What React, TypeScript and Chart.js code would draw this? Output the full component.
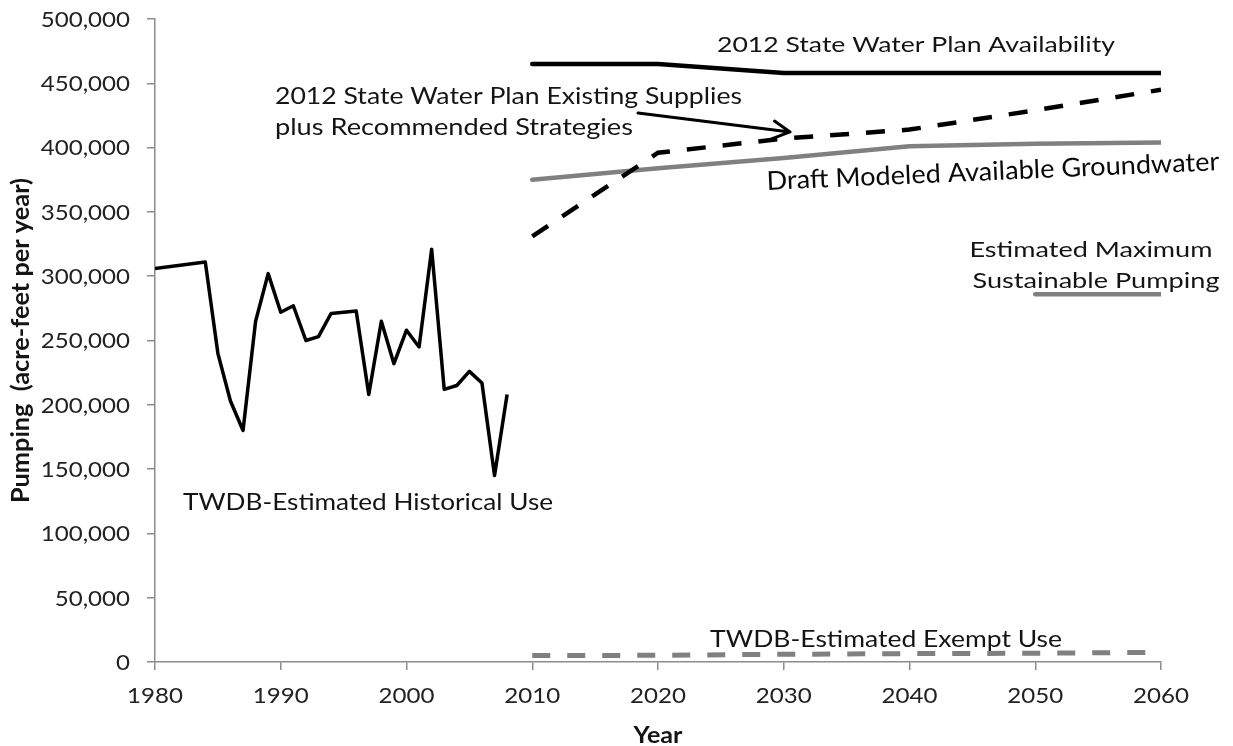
import React, { useEffect, useRef } from "react";
import { Chart, registerables } from "chart.js";

Chart.register(...registerables);

// ---------- data ----------
const histYears = [1980, 1984, 1985, 1986, 1987, 1988, 1989, 1990, 1991, 1992, 1993, 1994, 1995, 1996, 1997, 1998, 1999, 2000, 2001, 2002, 2003, 2004, 2005, 2006, 2007, 2008];
const histUse = [306000, 311000, 240000, 203000, 180000, 265000, 302000, 272000, 277000, 250000, 253000, 271000, 272000, 273000, 208000, 265000, 232000, 258000, 245000, 321000, 212000, 215000, 226000, 217000, 145000, 208000];

const projYears = [2010, 2020, 2030, 2040, 2050, 2060];
const swpAvailability = [465000, 465000, 458000, 458000, 458000, 458000];
const swpSuppliesStrategies = [331000, 396000, 407000, 414000, 429000, 445000];
const draftMAG = [375000, 384000, 392000, 401000, 403000, 404000];
const exemptUse = [5000, 5200, 6000, 6500, 6800, 7500];

const sustainYears = [2050, 2060];
const sustainPumping = [286000, 286000];

const xTickValues = [1980, 1990, 2000, 2010, 2020, 2030, 2040, 2050, 2060];
const xTickLabels = ["1980", "1990", "2000", "2010", "2020", "2030", "2040", "2050", "2060"];
const yTickValues = [0, 50000, 100000, 150000, 200000, 250000, 300000, 350000, 400000, 450000, 500000];
const yTickLabels = ["0", "50,000", "100,000", "150,000", "200,000", "250,000", "300,000", "350,000", "400,000", "450,000", "500,000"];

const xTitle = "Year";
const yTitle = "Pumping  (acre-feet per year)";

// ---------- helpers ----------
const pts = (xs: number[], ys: number[]) => xs.map((x, i) => ({ x, y: ys[i] }));

const FONT = "Lato, 'Open Sans', 'Noto Sans', sans-serif";
const TEXT = "#141414";
const GRAY = "#808080";
const AXIS = "#8c8c8c";

function drawFit(
  ctx: CanvasRenderingContext2D,
  text: string,
  x: number,
  y: number,
  font: string,
  width: number,
  align: "left" | "center" | "right",
  angle = 0,
  color = TEXT
) {
  ctx.save();
  ctx.font = font;
  ctx.fillStyle = color;
  ctx.textBaseline = "alphabetic";
  ctx.textAlign = "left";
  const w = ctx.measureText(text).width;
  const s = width / w;
  ctx.translate(x, y);
  if (angle) ctx.rotate(angle);
  ctx.scale(s, 1);
  const ox = align === "left" ? 0 : align === "center" ? -w / 2 : -w;
  ctx.fillText(text, ox, 0);
  ctx.restore();
}

const annotPlugin = {
  id: "annot",
  afterDraw(chart: any) {
    const ctx: CanvasRenderingContext2D = chart.ctx;
    const xs = chart.scales.x;
    const ys = chart.scales.y;
    const X = (v: number) => xs.getPixelForValue(v);
    const Y = (v: number) => ys.getPixelForValue(v);

    // tick labels
    const SX = 1.12;
    ctx.save();
    ctx.font = `21.5px ${FONT}`;
    ctx.fillStyle = "#222";
    ctx.textBaseline = "alphabetic";
    yTickValues.forEach((v, i) => {
      const t = yTickLabels[i];
      const w = ctx.measureText(t).width;
      ctx.save();
      ctx.translate(130, Y(v) + 7.8);
      ctx.scale(SX, 1);
      ctx.textAlign = "left";
      ctx.fillText(t, -w, 0);
      ctx.restore();
    });
    xTickValues.forEach((v, i) => {
      const t = xTickLabels[i];
      const w = ctx.measureText(t).width;
      ctx.save();
      ctx.translate(X(v), 703);
      ctx.scale(SX, 1);
      ctx.textAlign = "left";
      ctx.fillText(t, -w / 2, 0);
      ctx.restore();
    });
    ctx.restore();

    // axis titles
    drawFit(ctx, xTitle, (chart.chartArea.left + chart.chartArea.right) / 2, 743, `bold 22px ${FONT}`, 49, "center");
    ctx.save();
    ctx.font = `bold 21px ${FONT}`;
    ctx.fillStyle = TEXT;
    ctx.textBaseline = "alphabetic";
    const tw = ctx.measureText(yTitle).width;
    ctx.translate(29, (chart.chartArea.top + chart.chartArea.bottom) / 2);
    ctx.rotate(-Math.PI / 2);
    ctx.scale(325 / tw, 1.15);
    ctx.fillText(yTitle, -tw / 2, 0);
    ctx.restore();

    // series annotations
    drawFit(ctx, "2012 State Water Plan Availability", X(2024.69), Y(474600), `21px ${FONT}`, 398, "left");
    drawFit(ctx, "2012 State Water Plan Existing Supplies", X(1989.54), Y(433930), `23px ${FONT}`, 467, "left");
    drawFit(ctx, "plus Recommended Strategies", X(1989.54), Y(409830), `23px ${FONT}`, 358, "left");
    drawFit(ctx, "Draft Modeled Available Groundwater", X(2028.67), Y(367090), `26px ${FONT}`, 453, "left", (-2.5 * Math.PI) / 180, "#0a0a0a");
    drawFit(ctx, "Estimated Maximum", X(2054.43), Y(315250), `21px ${FONT}`, 243, "center");
    drawFit(ctx, "Sustainable Pumping", X(2054.83), Y(290690), `21px ${FONT}`, 247, "center");
    drawFit(ctx, "TWDB-Estimated Historical Use", X(1982.23), Y(118370), `23px ${FONT}`, 370, "left");
    drawFit(ctx, "TWDB-Estimated Exempt Use", X(2024.14), Y(11890), `23px ${FONT}`, 352, "left");

    // arrow
    const x0 = X(2018.41), y0 = Y(426940), x1 = X(2030.5), y1 = Y(412180);
    const a = Math.atan2(y1 - y0, x1 - x0);
    const L = 19, spread = (28 * Math.PI) / 180;
    ctx.save();
    ctx.strokeStyle = "#000";
    ctx.lineWidth = 3;
    ctx.lineCap = "round";
    ctx.lineJoin = "round";
    ctx.beginPath();
    ctx.moveTo(x0, y0);
    ctx.lineTo(x1, y1);
    ctx.moveTo(x1 - L * Math.cos(a - spread), y1 - L * Math.sin(a - spread));
    ctx.lineTo(x1, y1);
    ctx.lineTo(x1 - L * Math.cos(a + spread), y1 - L * Math.sin(a + spread));
    ctx.stroke();
    ctx.restore();
  },
};

export default function App() {
  const ref = useRef<HTMLCanvasElement | null>(null);

  useEffect(() => {
    if (!ref.current) return;
    const chart = new Chart(ref.current, {
      type: "line",
      data: {
        datasets: [
          {
            data: pts(histYears, histUse),
            borderColor: "#000",
            borderWidth: 3.5,
            pointRadius: 0,
            borderJoinStyle: "round",
            tension: 0,
          },
          {
            data: pts(projYears, swpAvailability),
            borderColor: "#000",
            borderWidth: 4.5,
            pointRadius: 0,
            borderCapStyle: "round",
            tension: 0,
          },
          {
            data: pts(projYears, swpSuppliesStrategies),
            borderColor: "#000",
            borderWidth: 4.5,
            borderDash: [19, 17],
            pointRadius: 0,
            tension: 0,
          },
          {
            data: pts(projYears, draftMAG),
            borderColor: GRAY,
            borderWidth: 4.5,
            pointRadius: 0,
            borderCapStyle: "round",
            tension: 0,
          },
          {
            data: pts(sustainYears, sustainPumping),
            borderColor: GRAY,
            borderWidth: 4.5,
            pointRadius: 0,
            borderCapStyle: "round",
            tension: 0,
          },
          {
            data: pts(projYears, exemptUse),
            borderColor: GRAY,
            borderWidth: 5,
            borderDash: [18, 17],
            pointRadius: 0,
            tension: 0,
          },
        ],
      },
      options: {
        animation: false,
        responsive: false,
        devicePixelRatio: 1,
        layout: { padding: { left: 0, right: 72, top: 19, bottom: 0 } },
        plugins: { legend: { display: false }, tooltip: { enabled: false } },
        scales: {
          x: {
            type: "linear",
            min: 1980,
            max: 2060,
            afterBuildTicks: (s: any) => {
              s.ticks = xTickValues.map((v) => ({ value: v }));
            },
            afterFit: (s: any) => {
              s.height = 84;
            },
            ticks: { display: false },
            grid: { display: true, drawOnChartArea: false, drawTicks: true, tickLength: 8, color: AXIS, lineWidth: 1.5 },
            border: { display: true, color: AXIS, width: 1.5 },
          },
          y: {
            type: "linear",
            min: 0,
            max: 500000,
            afterBuildTicks: (s: any) => {
              s.ticks = yTickValues.map((v) => ({ value: v }));
            },
            afterFit: (s: any) => {
              s.width = 155;
            },
            ticks: { display: false },
            grid: { display: true, drawOnChartArea: false, drawTicks: true, tickLength: 8, color: AXIS, lineWidth: 1.5 },
            border: { display: true, color: AXIS, width: 1.5 },
          },
        },
      } as any,
      plugins: [annotPlugin],
    });
    return () => chart.destroy();
  }, []);

  return (
    <div style={{ position: "fixed", left: 0, top: 0, width: 1233, height: 746, background: "#fff" }}>
      <canvas ref={ref} width={1233} height={746} style={{ display: "block" }} />
    </div>
  );
}
